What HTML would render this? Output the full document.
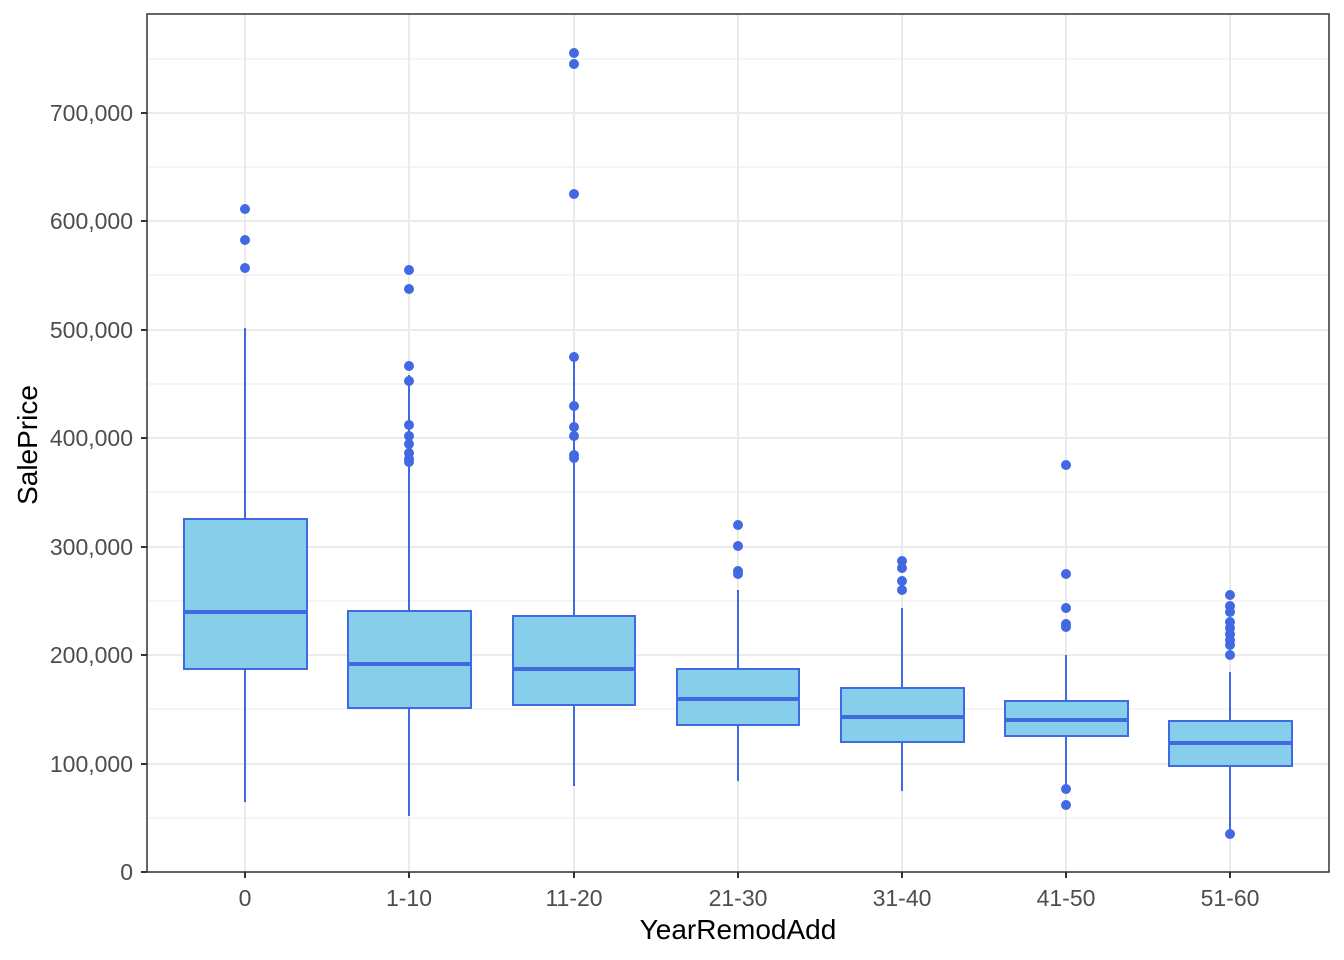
<!DOCTYPE html>
<html><head><meta charset="utf-8"><style>body{margin:0;background:#fff}svg{display:block}text{font-family:"Liberation Sans",sans-serif}</style></head><body>
<svg width="1344" height="960" xmlns="http://www.w3.org/2000/svg">
<rect width="1344" height="960" fill="#fff"/>
<g stroke="#ebebeb" stroke-width="1">
<line x1="147" x2="1329" y1="818" y2="818"/><line x1="147" x2="1329" y1="709" y2="709"/><line x1="147" x2="1329" y1="601" y2="601"/><line x1="147" x2="1329" y1="492" y2="492"/><line x1="147" x2="1329" y1="384" y2="384"/><line x1="147" x2="1329" y1="275" y2="275"/><line x1="147" x2="1329" y1="167" y2="167"/><line x1="147" x2="1329" y1="59" y2="59"/>
</g>
<g stroke="#ebebeb" stroke-width="2">
<line x1="147" x2="1329" y1="872" y2="872"/><line x1="147" x2="1329" y1="764" y2="764"/><line x1="147" x2="1329" y1="655" y2="655"/><line x1="147" x2="1329" y1="547" y2="547"/><line x1="147" x2="1329" y1="438" y2="438"/><line x1="147" x2="1329" y1="330" y2="330"/><line x1="147" x2="1329" y1="221" y2="221"/><line x1="147" x2="1329" y1="113" y2="113"/>
<line x1="245" x2="245" y1="14" y2="872"/><line x1="409" x2="409" y1="14" y2="872"/><line x1="574" x2="574" y1="14" y2="872"/><line x1="738" x2="738" y1="14" y2="872"/><line x1="902" x2="902" y1="14" y2="872"/><line x1="1066" x2="1066" y1="14" y2="872"/><line x1="1230" x2="1230" y1="14" y2="872"/>
</g>
<g stroke="#4169e1" stroke-width="2" fill="#87ceeb">
<line x1="245" x2="245" y1="328" y2="802"/><rect x="184" y="519" width="123" height="150"/><line x1="184" x2="307" y1="612" y2="612" stroke-width="4"/>
<line x1="409" x2="409" y1="375" y2="816"/><rect x="348" y="611" width="123" height="97"/><line x1="348" x2="471" y1="664" y2="664" stroke-width="4"/>
<line x1="574" x2="574" y1="352" y2="786"/><rect x="513" y="616" width="122" height="89"/><line x1="513" x2="635" y1="669" y2="669" stroke-width="4"/>
<line x1="738" x2="738" y1="590" y2="781"/><rect x="677" y="669" width="122" height="56"/><line x1="677" x2="799" y1="699" y2="699" stroke-width="4"/>
<line x1="902" x2="902" y1="608" y2="791"/><rect x="841" y="688" width="123" height="54"/><line x1="841" x2="964" y1="717" y2="717" stroke-width="4"/>
<line x1="1066" x2="1066" y1="655" y2="785"/><rect x="1005" y="701" width="123" height="35"/><line x1="1005" x2="1128" y1="720" y2="720" stroke-width="4"/>
<line x1="1230" x2="1230" y1="672" y2="832"/><rect x="1169" y="721" width="123" height="45"/><line x1="1169" x2="1292" y1="743" y2="743" stroke-width="4"/>
</g>
<g fill="#4169e1">
<circle cx="245" cy="209" r="5"/><circle cx="245" cy="240" r="5"/><circle cx="245" cy="268" r="5"/>
<circle cx="409" cy="270" r="5"/><circle cx="409" cy="289" r="5"/><circle cx="409" cy="366" r="5"/><circle cx="409" cy="381" r="5"/><circle cx="409" cy="425" r="5"/><circle cx="409" cy="436" r="5"/><circle cx="409" cy="444" r="5"/><circle cx="409" cy="453" r="5"/><circle cx="409" cy="459" r="5"/><circle cx="409" cy="462" r="5"/>
<circle cx="574" cy="53" r="5"/><circle cx="574" cy="64" r="5"/><circle cx="574" cy="194" r="5"/><circle cx="574" cy="357" r="5"/><circle cx="574" cy="406" r="5"/><circle cx="574" cy="427" r="5"/><circle cx="574" cy="436" r="5"/><circle cx="574" cy="455" r="5"/><circle cx="574" cy="458" r="5"/>
<circle cx="738" cy="525" r="5"/><circle cx="738" cy="546" r="5"/><circle cx="738" cy="571" r="5"/><circle cx="738" cy="574" r="5"/>
<circle cx="902" cy="561" r="5"/><circle cx="902" cy="568" r="5"/><circle cx="902" cy="581" r="5"/><circle cx="902" cy="590" r="5"/>
<circle cx="1066" cy="465" r="5"/><circle cx="1066" cy="574" r="5"/><circle cx="1066" cy="608" r="5"/><circle cx="1066" cy="624" r="5"/><circle cx="1066" cy="627" r="5"/><circle cx="1066" cy="789" r="5"/><circle cx="1066" cy="805" r="5"/>
<circle cx="1230" cy="595" r="5"/><circle cx="1230" cy="606" r="5"/><circle cx="1230" cy="612" r="5"/><circle cx="1230" cy="622" r="5"/><circle cx="1230" cy="628" r="5"/><circle cx="1230" cy="634" r="5"/><circle cx="1230" cy="640" r="5"/><circle cx="1230" cy="645" r="5"/><circle cx="1230" cy="655" r="5"/><circle cx="1230" cy="834" r="5"/>
</g>
<rect x="147" y="14" width="1182" height="858" fill="none" stroke="#333" stroke-width="1.5"/>
<g stroke="#333" stroke-width="2">
<line x1="141" x2="147" y1="872" y2="872"/><line x1="141" x2="147" y1="764" y2="764"/><line x1="141" x2="147" y1="655" y2="655"/><line x1="141" x2="147" y1="547" y2="547"/><line x1="141" x2="147" y1="438" y2="438"/><line x1="141" x2="147" y1="330" y2="330"/><line x1="141" x2="147" y1="221" y2="221"/><line x1="141" x2="147" y1="113" y2="113"/>
<line x1="245" x2="245" y1="872" y2="878"/><line x1="409" x2="409" y1="872" y2="878"/><line x1="574" x2="574" y1="872" y2="878"/><line x1="738" x2="738" y1="872" y2="878"/><line x1="902" x2="902" y1="872" y2="878"/><line x1="1066" x2="1066" y1="872" y2="878"/><line x1="1230" x2="1230" y1="872" y2="878"/>
</g>
<g font-size="23" fill="#4d4d4d" text-anchor="end">
<text x="133" y="880">0</text><text x="133" y="772">100,000</text><text x="133" y="663">200,000</text><text x="133" y="555">300,000</text><text x="133" y="446">400,000</text><text x="133" y="338">500,000</text><text x="133" y="229">600,000</text><text x="133" y="121">700,000</text>
</g>
<g font-size="23" fill="#4d4d4d" text-anchor="middle">
<text x="245" y="906">0</text><text x="409" y="906">1-10</text><text x="574" y="906">11-20</text><text x="738" y="906">21-30</text><text x="902" y="906">31-40</text><text x="1066" y="906">41-50</text><text x="1230" y="906">51-60</text>
</g>
<text x="738" y="939" font-size="28" text-anchor="middle" fill="#000">YearRemodAdd</text>
<text transform="translate(37,445) rotate(-90)" font-size="28" text-anchor="middle" fill="#000">SalePrice</text>
</svg>
</body></html>
